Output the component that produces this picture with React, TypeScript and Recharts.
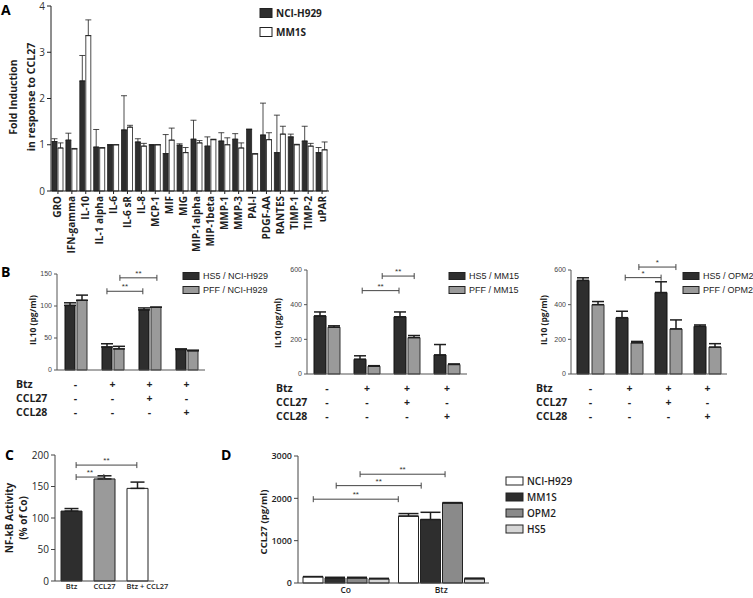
import React from "react";
import { BarChart, Bar, XAxis, YAxis, ErrorBar, ReferenceLine, Cell } from "recharts";

// A: cytokine array, fold induction in response to CCL27
const cytokines = [
  "GRO", "IFN-gamma", "IL-10", "IL-1 alpha", "IL-6", "IL-6 sR", "IL-8", "MCP-1", "MIF", "MIG",
  "MIP-1alpha", "MIP-1beta", "MMP-1", "MMP-3", "PAI-I", "PDGF-AA", "RANTES", "TIMP-1", "TIMP-2", "uPAR",
];
const foldSeries = ["NCI-H929", "MM1S"];
const h929Fold = [1.07, 1.1, 2.38, 0.95, 1.0, 1.32, 1.06, 1.0, 0.81, 0.99, 1.12, 0.97, 1.08, 1.12, 1.33, 1.21, 0.83, 1.17, 1.08, 0.83];
const h929FoldSd = [0.06, 0.15, 0.55, 0.38, 0, 0.74, 0.07, 0, 0.41, 0.03, 0.41, 0.2, 0.18, 0.12, 0.01, 0.69, 0.81, 0.06, 0.32, 0.11];
const mm1sFold = [0.93, 0.91, 3.36, 0.93, 1.0, 1.38, 0.97, 1.0, 1.1, 0.83, 1.04, 1.11, 1.0, 0.93, 0.8, 1.11, 1.23, 1.0, 0.97, 0.89];
const mm1sFoldSd = [0.11, 0.01, 0.34, 0.01, 0, 0.04, 0.06, 0, 0.26, 0.11, 0.05, 0.01, 0.15, 0.11, 0.01, 0.15, 0.17, 0.01, 0.06, 0.17];
const foldTicks = [0, 1, 2, 3, 4];

// B: IL10 secretion, treatment table under each panel
const treatments = ["Co", "Btz", "Btz + CCL27", "Btz + CCL28"];
const signRowNames = ["Btz", "CCL27", "CCL28"];
const btzSigns = ["-", "+", "+", "+"];
const ccl27Signs = ["-", "-", "+", "-"];
const ccl28Signs = ["-", "-", "-", "+"];
const signRows = [btzSigns, ccl27Signs, ccl28Signs];

const h929Series = ["HS5 / NCI-H929", "PFF / NCI-H929"];
const hs5H929 = [101, 36, 94, 32];
const hs5H929Sd = [4, 5, 3, 1];
const pffH929 = [109, 33, 98, 30];
const pffH929Sd = [8, 4, 0, 1];
const h929Ticks = [0, 50, 100, 150];
// brackets: from/to in group units along the x axis (0 = left edge, 1 = one group), at = y value
const h929Brackets = [
  { from: 1.35, to: 2.32, at: 123, label: "**" },
  { from: 1.7, to: 2.7, at: 144, label: "**" },
];

const mm15Series = ["HS5 / MM15", "PFF / MM15"];
const hs5Mm15 = [335, 85, 330, 110];
const hs5Mm15Sd = [23, 20, 28, 60];
const pffMm15 = [270, 45, 210, 55];
const pffMm15Sd = [8, 3, 12, 3];
const mm15Brackets = [
  { from: 1.38, to: 2.3, at: 481, label: "**" },
  { from: 1.88, to: 2.68, at: 565, label: "**" },
];

const opm2Series = ["HS5 / OPM2", "PFF / OPM2"];
const hs5Opm2 = [540, 325, 470, 275];
const hs5Opm2Sd = [15, 37, 62, 8];
const pffOpm2 = [400, 180, 260, 155];
const pffOpm2Sd = [18, 8, 52, 20];
const opm2Brackets = [
  { from: 1.39, to: 2.31, at: 556, label: "*" },
  { from: 1.74, to: 2.69, at: 617, label: "*" },
];
const il10Ticks = [0, 200, 400, 600];

// C: NF-kB activity
const nfkbGroups = ["Btz", "CCL27", "Btz + CCL27"];
const nfkbActivity = [111, 162, 147];
const nfkbSd = [4, 5, 10];
const nfkbTicks = [0, 50, 100, 150, 200];
const nfkbBrackets = [
  { from: 0.64, to: 1.48, at: 165, label: "**" },
  { from: 0.64, to: 2.48, at: 184, label: "**" },
];

// D: CCL27 secretion
const ccl27Conditions = ["Co", "Btz"];
const cellLines = ["NCI-H929", "MM1S", "OPM2", "HS5"];
const ccl27H929 = [150, 1580];
const ccl27H929Sd = [0, 60];
const ccl27Mm1s = [120, 1500];
const ccl27Mm1sSd = [15, 170];
const ccl27Opm2 = [120, 1890];
const ccl27Opm2Sd = [15, 10];
const ccl27Hs5 = [100, 100];
const ccl27Hs5Sd = [10, 15];
const ccl27Ticks = [0, 1000, 2000, 3000];
const ccl27Brackets = [
  { from: 0.16, to: 1.05, at: 1980, label: "**" },
  { from: 0.4, to: 1.29, at: 2300, label: "**" },
  { from: 0.65, to: 1.54, at: 2570, label: "**" },
];

const sans = "'Open Sans', 'DejaVu Sans', sans-serif";
const arial = "'Liberation Sans', Arial, sans-serif";
const INK = "#1e1e1e";
const DARK = "#2e2e2e";
const GRAY = "#9a9a9a";
const signOffsets = [17.5, 32, 46];

const bracketShape = (label: string) => (p: any) => (
  <g>
    <line x1={p.x1} y1={p.y1} x2={p.x2} y2={p.y2} stroke="#444" strokeWidth={1} />
    <line x1={p.x1} y1={p.y1 - 3} x2={p.x1} y2={p.y1 + 3} stroke="#444" strokeWidth={1} />
    <line x1={p.x2} y1={p.y2 - 3} x2={p.x2} y2={p.y2 + 3} stroke="#444" strokeWidth={1} />
    <text x={(p.x1 + p.x2) / 2} y={p.y1 - 2} textAnchor="middle" fontSize={8} fontFamily={arial} fill="#333">
      {label}
    </text>
  </g>
);

const renderBrackets = (list: { from: number; to: number; at: number; label: string }[]) =>
  list.map((b, i) => (
    <ReferenceLine
      key={i}
      xAxisId="pos"
      segment={[{ x: b.from, y: b.at }, { x: b.to, y: b.at }]}
      ifOverflow="visible"
      shape={bracketShape(b.label)}
    />
  ));

// hidden numeric axis spanning the same plot width, used to place brackets
const slotAxis = (n: number) => (
  <XAxis xAxisId="pos" dataKey="slot" type="number" domain={[0, n]} allowDataOverflow hide />
);

function CytokineTick({ x, y, payload }: any) {
  return (
    <text
      x={x}
      y={y}
      dy={3.5}
      transform={`rotate(-90, ${x}, ${y})`}
      textAnchor="end"
      fontSize={10}
      fontWeight={700}
      fontFamily={sans}
      fill={INK}
    >
      {payload.value}
    </text>
  );
}

function SignTick({ x, y, payload }: any) {
  const i = treatments.indexOf(payload.value);
  return (
    <g fontFamily={sans} fontWeight={700} fill={INK}>
      {signRows.map((row, r) => (
        <text key={r} x={x} y={y + signOffsets[r]} textAnchor="middle" fontSize={10.5}>
          {row[i]}
        </text>
      ))}
    </g>
  );
}

function NfkbTick({ x, y, payload, index }: any) {
  const last = index === nfkbGroups.length - 1;
  return (
    <text
      x={last ? x - 11 : x}
      y={y}
      dy={8}
      textAnchor={last ? "start" : "middle"}
      fontSize={7.5}
      fontWeight={600}
      fontFamily={sans}
      fill={INK}
    >
      {payload.value}
    </text>
  );
}

function FoldChart() {
  const data = cytokines.map((name, i) => ({
    name,
    h929: h929Fold[i],
    h929Err: [0, h929FoldSd[i]],
    mm1s: mm1sFold[i],
    mm1sErr: [0, mm1sFoldSd[i]],
  }));
  return (
    <div style={{ position: "absolute", left: 0, top: 0 }}>
      <BarChart width={339} height={262} data={data} margin={{ top: 6, right: 10, left: 0, bottom: 0 }} barGap={1}>
        <XAxis
          dataKey="name"
          interval={0}
          height={71}
          tickSize={3}
          tick={<CytokineTick />}
          axisLine={{ stroke: INK }}
          tickLine={{ stroke: INK }}
        />
        <YAxis
          domain={[0, 4]}
          ticks={foldTicks}
          width={51}
          tickSize={4}
          tick={{ fontSize: 10, fill: "#333", fontFamily: sans }}
          axisLine={{ stroke: INK }}
          tickLine={{ stroke: INK }}
        />
        <Bar dataKey="h929" fill={DARK} stroke={INK} strokeWidth={0.8} barSize={5} isAnimationActive={false}>
          <ErrorBar dataKey="h929Err" direction="y" width={3} stroke={INK} strokeWidth={0.8} />
        </Bar>
        <Bar dataKey="mm1s" fill="#fff" stroke={INK} strokeWidth={0.8} barSize={5} isAnimationActive={false}>
          <ErrorBar dataKey="mm1sErr" direction="y" width={3} stroke={INK} strokeWidth={0.8} />
        </Bar>
      </BarChart>
    </div>
  );
}

function Il10Chart({ left, top, width, height, axisHeight, yMax, ticks, hs5, hs5Sd, pff, pffSd, brackets, barSize, barGap }: any) {
  const data = treatments.map((name, i) => ({
    name,
    slot: i + 0.5,
    hs5: hs5[i],
    hs5Err: [0, hs5Sd[i]],
    pff: pff[i],
    pffErr: [0, pffSd[i]],
  }));
  return (
    <div style={{ position: "absolute", left, top }}>
      <BarChart width={width} height={height} data={data} margin={{ top: 14, right: 10, left: 0, bottom: 0 }} barGap={barGap}>
        <XAxis
          dataKey="name"
          interval={0}
          height={axisHeight}
          tickSize={0}
          tickMargin={0}
          tick={<SignTick />}
          axisLine={{ stroke: "#555" }}
          tickLine={false}
        />
        {slotAxis(treatments.length)}
        <YAxis
          domain={[0, yMax]}
          ticks={ticks}
          width={57}
          tickSize={3}
          tickMargin={2}
          tick={{ fontSize: 7, fill: "#444", fontFamily: arial }}
          axisLine={{ stroke: "#555" }}
          tickLine={{ stroke: "#555" }}
        />
        <Bar dataKey="hs5" fill={DARK} stroke="#111" strokeWidth={1} barSize={barSize} isAnimationActive={false}>
          <ErrorBar dataKey="hs5Err" direction="y" width={6} stroke={INK} />
        </Bar>
        <Bar dataKey="pff" fill={GRAY} stroke="#333" strokeWidth={1} barSize={barSize} isAnimationActive={false}>
          <ErrorBar dataKey="pffErr" direction="y" width={6} stroke={INK} />
        </Bar>
        {renderBrackets(brackets)}
      </BarChart>
    </div>
  );
}

function NfkbChart() {
  const data = nfkbGroups.map((name, i) => ({ name, slot: i + 0.5, activity: nfkbActivity[i], err: [0, nfkbSd[i]] }));
  const fills = [DARK, GRAY, "#fff"];
  return (
    <div style={{ position: "absolute", left: 0, top: 445 }}>
      <BarChart width={184} height={153} data={data} margin={{ top: 10, right: 30, left: 0, bottom: 0 }}>
        <XAxis
          dataKey="name"
          interval={0}
          height={17}
          tickSize={0}
          tickMargin={0}
          tick={<NfkbTick />}
          axisLine={{ stroke: "#444" }}
        />
        {slotAxis(nfkbGroups.length)}
        <YAxis
          domain={[0, 200]}
          ticks={nfkbTicks}
          width={55}
          tickSize={4}
          tick={{ fontSize: 10, fill: INK, fontFamily: sans }}
          axisLine={{ stroke: "#444" }}
          tickLine={{ stroke: "#444" }}
        />
        <Bar dataKey="activity" barSize={21} stroke="#222" strokeWidth={1} isAnimationActive={false}>
          {data.map((d, i) => (
            <Cell key={d.name} fill={fills[i]} />
          ))}
          <ErrorBar dataKey="err" direction="y" width={7} stroke={INK} />
        </Bar>
        {renderBrackets(nfkbBrackets)}
      </BarChart>
    </div>
  );
}

function Ccl27Chart() {
  const data = ccl27Conditions.map((name, i) => ({
    name,
    slot: i + 0.5,
    h929: ccl27H929[i],
    h929Err: [0, ccl27H929Sd[i]],
    mm1s: ccl27Mm1s[i],
    mm1sErr: [0, ccl27Mm1sSd[i]],
    opm2: ccl27Opm2[i],
    opm2Err: [0, ccl27Opm2Sd[i]],
    hs5: ccl27Hs5[i],
    hs5Err: [0, ccl27Hs5Sd[i]],
  }));
  const series = [
    { key: "h929", fill: "#fff" },
    { key: "mm1s", fill: DARK },
    { key: "opm2", fill: "#8a8a8a" },
    { key: "hs5", fill: "#d6d6d6" },
  ];
  return (
    <div style={{ position: "absolute", left: 240, top: 446 }}>
      <BarChart width={259} height={152} data={data} margin={{ top: 10, right: 10, left: 0, bottom: 0 }} barGap={2}>
        <XAxis
          dataKey="name"
          interval={0}
          height={15}
          tickSize={0}
          tickMargin={4}
          tick={{ fontSize: 8.5, fontWeight: 600, fill: INK, fontFamily: sans }}
          axisLine={{ stroke: "#444" }}
        />
        {slotAxis(ccl27Conditions.length)}
        <YAxis
          domain={[0, 3000]}
          ticks={ccl27Ticks}
          width={58}
          tickSize={4}
          tick={{ fontSize: 9, fontWeight: 600, fill: INK, fontFamily: sans }}
          axisLine={{ stroke: "#444" }}
          tickLine={{ stroke: "#444" }}
        />
        {series.map((s) => (
          <Bar key={s.key} dataKey={s.key} fill={s.fill} stroke="#222" strokeWidth={1} barSize={20} isAnimationActive={false}>
            <ErrorBar dataKey={s.key + "Err"} direction="y" width={10} stroke={INK} />
          </Bar>
        ))}
        {renderBrackets(ccl27Brackets)}
      </BarChart>
    </div>
  );
}

function RotLabel({ x, y, text, size, weight = 700 }: any) {
  return (
    <text transform={`translate(${x},${y}) rotate(-90)`} textAnchor="middle" fontSize={size} fontWeight={weight} fill={INK}>
      {text}
    </text>
  );
}

function SeriesKey({ x, y, names, fills, size, family, weight, gap, w, h }: any) {
  return (
    <g fontFamily={family} fontWeight={weight} fontSize={size} fill={INK}>
      {names.map((n: string, i: number) => (
        <g key={n}>
          <rect x={x} y={y + i * gap - h / 2} width={w} height={h} fill={fills[i]} stroke="#222" strokeWidth={1} />
          <text x={x + w + 4} y={y + i * gap + size * 0.35}>
            {n}
          </text>
        </g>
      ))}
    </g>
  );
}

function Overlay() {
  const rowsAt = (x: number, axisY: number) =>
    signRowNames.map((n, r) => (
      <text key={n} x={x} y={axisY + signOffsets[r]} fontSize={10.5} fontWeight={700} fill={INK}>
        {n}
      </text>
    ));
  return (
    <svg
      width={753}
      height={598}
      style={{ position: "absolute", left: 0, top: 0, pointerEvents: "none" }}
      fontFamily={sans}
    >
      <g fontSize={14} fontWeight={700} fill="#000">
        <text x={1} y={15}>A</text>
        <text x={1} y={277}>B</text>
        <text x={5} y={460}>C</text>
        <text x={221} y={460}>D</text>
      </g>

      <RotLabel x={17} y={97} text="Fold Induction" size={10.5} />
      <RotLabel x={35} y={97} text="in response to CCL27" size={10.5} />
      <SeriesKey x={260} y={13} names={foldSeries} fills={[DARK, "#fff"]} size={10} family={sans} weight={700} gap={19} w={12} h={9} />

      <RotLabel x={36} y={320} text="IL10 (pg/ml)" size={8.5} />
      <RotLabel x={281} y={323} text="IL10 (pg/ml)" size={8.5} />
      <RotLabel x={547} y={320} text="IL10 (pg/ml)" size={8.5} />
      {rowsAt(16, 370)}
      {rowsAt(276, 374)}
      {rowsAt(536, 374)}
      <SeriesKey x={183} y={276} names={h929Series} fills={[DARK, GRAY]} size={9} family={arial} weight={400} gap={14} w={16} h={7} />
      <SeriesKey x={449} y={276} names={mm15Series} fills={[DARK, GRAY]} size={9} family={arial} weight={400} gap={14} w={16} h={7} />
      <SeriesKey x={683} y={276} names={opm2Series} fills={[DARK, GRAY]} size={9} family={arial} weight={400} gap={14} w={16} h={7} />

      <RotLabel x={13} y={518} text="NF-kB Activity" size={10} />
      <RotLabel x={27} y={518} text="(% of Co)" size={10} />

      <RotLabel x={267} y={522} text="CCL27 (pg/ml)" size={9.5} />
      <SeriesKey
        x={506}
        y={481}
        names={cellLines}
        fills={["#fff", DARK, "#8a8a8a", "#d6d6d6"]}
        size={10}
        family={sans}
        weight={600}
        gap={16}
        w={17}
        h={8}
      />
    </svg>
  );
}

export default function App() {
  return (
    <div style={{ position: "absolute", left: 0, top: 0, width: 753, height: 598, background: "#fff", fontFamily: sans }}>
      <FoldChart />
      <Il10Chart
        left={0}
        top={260}
        width={215}
        height={170}
        axisHeight={60}
        yMax={150}
        ticks={h929Ticks}
        hs5={hs5H929}
        hs5Sd={hs5H929Sd}
        pff={pffH929}
        pffSd={pffH929Sd}
        brackets={h929Brackets}
        barSize={10}
        barGap={2}
      />
      <Il10Chart
        left={250}
        top={256}
        width={227}
        height={174}
        axisHeight={56}
        yMax={600}
        ticks={il10Ticks}
        hs5={hs5Mm15}
        hs5Sd={hs5Mm15Sd}
        pff={pffMm15}
        pffSd={pffMm15Sd}
        brackets={mm15Brackets}
        barSize={12}
        barGap={2}
      />
      <Il10Chart
        left={514}
        top={256}
        width={223}
        height={174}
        axisHeight={56}
        yMax={600}
        ticks={il10Ticks}
        hs5={hs5Opm2}
        hs5Sd={hs5Opm2Sd}
        pff={pffOpm2}
        pffSd={pffOpm2Sd}
        brackets={opm2Brackets}
        barSize={12}
        barGap={3}
      />
      <NfkbChart />
      <Ccl27Chart />
      <Overlay />
    </div>
  );
}
